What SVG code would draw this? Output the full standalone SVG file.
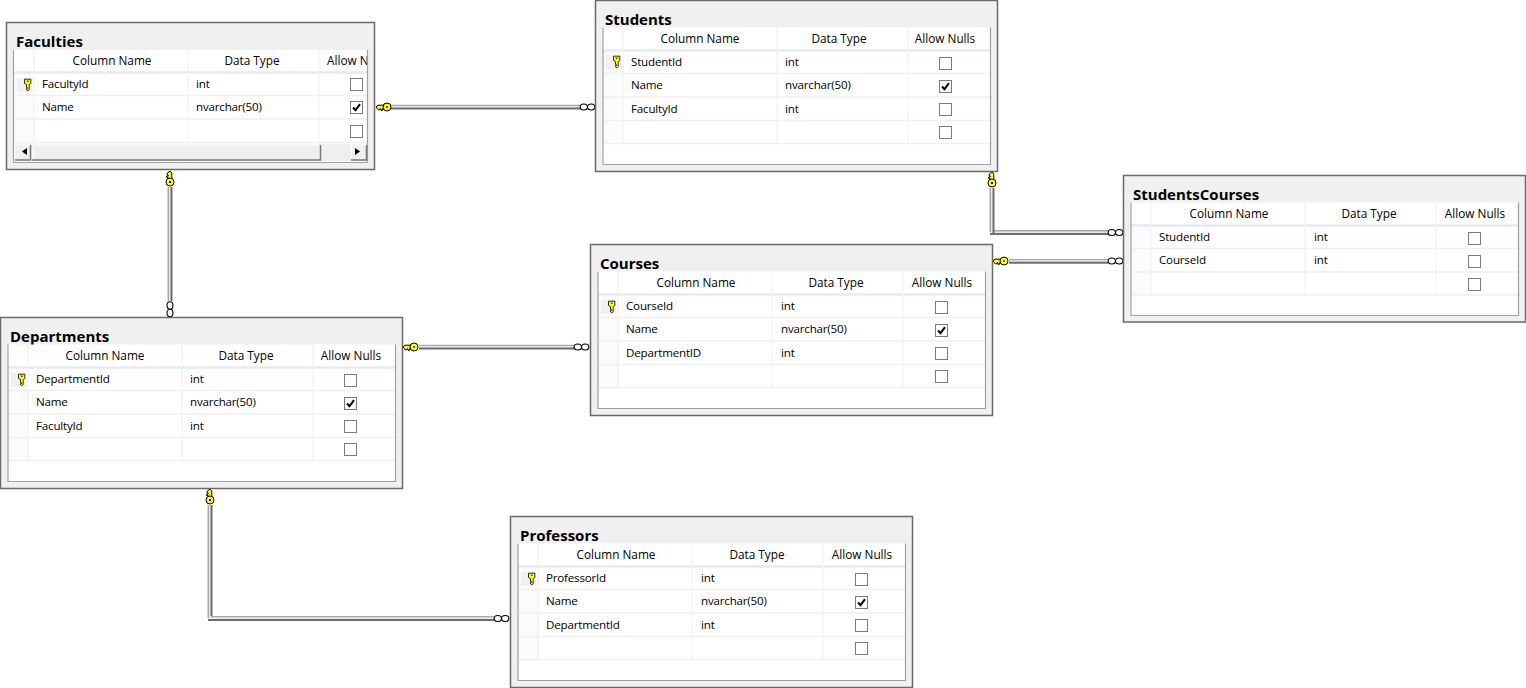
<svg xmlns="http://www.w3.org/2000/svg" width="1526" height="688" viewBox="0 0 1526 688">
<style>
text{font-family:"Open Sans","Noto Sans","Liberation Sans",sans-serif;font-size:11.600px;letter-spacing:-.2px;fill:#000}
.h{font-size:11.800px;letter-spacing:0}
.t{font-size:15px;font-weight:700;letter-spacing:0}
.m{text-anchor:middle}
.box{fill:#f0f0f0;stroke:#6a6a6a;stroke-width:1.500}
.grid{fill:#fff;stroke:none}
.fr{fill:none;stroke:#a0a0a0;stroke-width:1.200}
.mk{fill:#fbfbfb}
.hl{stroke:#e4eaf8;stroke-width:2.500;fill:none}
.rl{stroke:#f0f0f0;stroke-width:1.500;fill:none}
.vl{stroke:#f1f3f8;stroke-width:1.500;fill:none}
.cb{fill:#fff;stroke:#7a7a7a;stroke-width:1}
.ck{fill:none;stroke:#000;stroke-width:2}
.c1{fill:none;stroke:#a8a8a8;stroke-width:2}
.c2{fill:none;stroke:#eaeaea;stroke-width:2}
.c3{fill:none;stroke:#6c6c6c;stroke-width:2}
.inf{fill:#fff;stroke:#000;stroke-width:1.100}
.key{fill:#ffff00;stroke:#000;stroke-width:1}
.sb{fill:#efefef;stroke:none}
.sbd{fill:none;stroke:#777;stroke-width:1.500}
.sbl{fill:none;stroke:#fff;stroke-width:1}
</style>
<defs>
<g id="rowkey"><rect x="-15" y="-7" width="15" height="14" fill="#f0f0f0"/><path d="M-7.500-5.800h6.300v4.300l-1.600 1.100v5l-1.300 1.300-1.400-1v-1.200h1v-1h-1v-3.100l-2-1.100z" fill="#ffff00" stroke="#000" stroke-width=".8"/><rect x="-5.300" y="-4.300" width="2" height="1" fill="#000"/></g>
<g id="box"><rect class="cb" x="0.500" y="0.500" width="12" height="12"/></g>
<g id="boxc"><rect class="cb" x="0.500" y="0.500" width="12" height="12"/><path class="ck" d="M3 6.500l2.500 2.700 4.500-6"/></g>
<g id="keyL"><path class="key" d="M0 0l2-1.800h6v3.600h-1.500v1.500h-1.500v-1.500h-1v1h-1.800z"/><circle class="key" cx="11" cy="0" r="4"/><rect x="10" y="-.6" width="2" height="1.200" fill="#000"/></g>
<g id="keyU"><path class="key" d="M0 0l1.800 2v6h-3.600v-1.500h-1.500v-1.500h1.500v-1h-1v-1.800z"/><circle class="key" cx="0" cy="11" r="4"/><rect x="-1" y="10" width="2" height="2" fill="#000"/></g>
<g id="infH"><ellipse class="inf" cx="0.800" cy="0" rx="3.700" ry="3"/><ellipse class="inf" cx="8.200" cy="0" rx="3.700" ry="3"/></g>
<g id="infV"><ellipse class="inf" cx="0" cy="0" rx="3" ry="3.700"/><ellipse class="inf" cx="0" cy="7.500" rx="3" ry="3.700"/></g>
<g id="rows5"><rect class="mk" x="8" y="52" width="20" height="91"/><path class="hl" d="M8 50.500H395"/><path class="rl" d="M8 73.500H395M8 97H395M8 120.500H395M8 143.500H395"/><path class="vl" d="M28 28V143M182 28V143M313 28V143"/></g>
<clipPath id="fc"><rect x="7" y="28" width="354" height="112"/></clipPath>
</defs>

<g id="connectors">
<path class="c1" d="M391 105.800H580"/><path class="c2" d="M391 107H580"/><path class="c3" d="M391 108.500H580"/>
<use href="#keyL" x="376" y="107"/><use href="#infH" x="583" y="107"/>

<path class="c1" d="M168.500 187V301"/><path class="c2" d="M170 187V301"/><path class="c3" d="M171.500 187V301"/>
<use href="#keyU" x="170" y="171"/><use href="#infV" x="170" y="305.500"/>

<path class="c1" d="M990.500 188V231H1108"/><path class="c2" d="M992 188V232.500H1108"/><path class="c3" d="M993.500 188V233"/><path class="c3" d="M990 234H1108"/>
<use href="#keyU" x="992" y="172"/><use href="#infH" x="1111" y="232.500"/>

<path class="c1" d="M1009 260H1108"/><path class="c2" d="M1009 261.200H1108"/><path class="c3" d="M1009 262.800H1108"/>
<use href="#keyL" x="993" y="261"/><use href="#infH" x="1111" y="261"/>

<path class="c1" d="M419 345.800H574"/><path class="c2" d="M419 347H574"/><path class="c3" d="M419 348.500H574"/>
<use href="#keyL" x="403" y="347"/><use href="#infH" x="577" y="347"/>

<path class="c1" d="M208.500 505V617H494"/><path class="c2" d="M210 505V618.200H494"/><path class="c3" d="M211.500 505V616"/><path class="c3" d="M208 620H494"/>
<use href="#keyU" x="210" y="489"/><use href="#infH" x="497" y="618.500"/>
</g>

<g id="faculties" transform="translate(6,22)">
<rect class="box" x="0.500" y="0.500" width="368" height="147"/>
<text class="t" x="10" y="25">Faculties</text>
<rect class="grid" x="7.500" y="28" width="354" height="112"/>
<g clip-path="url(#fc)"><use href="#rows5"/>
<text class="m h" x="106" y="43">Column Name</text><text class="m h" x="246" y="43">Data Type</text><text class="h" x="321" y="43">Allow Nulls</text></g>
<path class="fr" d="M7.500 28V140.500H361.500V28"/>
<use href="#rowkey" x="26" y="63"/>
<text x="36" y="66">FacultyId</text><text x="190" y="66">int</text>
<text x="36" y="89">Name</text><text x="190" y="89">nvarchar(50)</text>
<use href="#box" x="344" y="56"/><use href="#boxc" x="344" y="79"/><use href="#box" x="344" y="103"/>
<rect class="sb" x="8" y="122" width="353" height="17"/>
<path class="sbl" d="M9 137V123H24M27 137V123H313M345.500 137V123H360"/>
<path class="sbd" d="M9 138H24.500V123M26 138H314.500V123M345 138H360.500V123"/><path d="M21 126v7l-5-3.500z" fill="#000"/>
<path d="M349 126v7l5-3.500z" fill="#000"/>
</g>

<g id="students" transform="translate(595,0)">
<rect class="box" x="0.500" y="0.500" width="402" height="171"/>
<text class="t" x="10" y="25">Students</text>
<rect class="grid" x="7.500" y="27.500" width="388" height="137"/><use href="#rows5"/><path class="fr" d="M8 27.500V164.500H395.500V27.500"/>
<text class="m h" x="105" y="43">Column Name</text><text class="m h" x="244" y="43">Data Type</text><text class="m h" x="350" y="43">Allow Nulls</text>
<use href="#rowkey" x="26" y="62"/>
<text x="36" y="66">StudentId</text><text x="190" y="66">int</text>
<text x="36" y="89">Name</text><text x="190" y="89">nvarchar(50)</text>
<text x="36" y="113">FacultyId</text><text x="190" y="113">int</text>
<use href="#box" x="344" y="57"/><use href="#boxc" x="344" y="80"/><use href="#box" x="344" y="103"/><use href="#box" x="344" y="126"/>
</g>

<g id="studentscourses" transform="translate(1123,175)">
<rect class="box" x="0.500" y="0.500" width="402" height="146.500"/>
<text class="t" x="10" y="25">StudentsCourses</text>
<rect class="grid" x="7.500" y="27.500" width="388" height="113"/>
<rect class="mk" x="8" y="52" width="20" height="68"/><path class="hl" d="M8 50.500H395"/><path class="rl" d="M8 73.500H395M8 97H395M8 120H395"/><path class="vl" d="M28 28V120M182 28V120M313 28V120"/>
<path class="fr" d="M8 27.500V140.500H395.500V27.500"/>
<text class="m h" x="106" y="43">Column Name</text><text class="m h" x="246" y="43">Data Type</text><text class="m h" x="352" y="43">Allow Nulls</text>
<text x="36" y="66">StudentId</text><text x="191" y="66">int</text>
<text x="36" y="89">CourseId</text><text x="191" y="89">int</text>
<use href="#box" x="345" y="57"/><use href="#box" x="345" y="80"/><use href="#box" x="345" y="103"/>
</g>

<g id="courses" transform="translate(590,244)">
<rect class="box" x="0.500" y="0.500" width="402" height="171"/>
<text class="t" x="10" y="25">Courses</text>
<rect class="grid" x="7.500" y="27.500" width="388" height="137"/><use href="#rows5"/><path class="fr" d="M8 27.500V164.500H395.500V27.500"/>
<text class="m h" x="106" y="43">Column Name</text><text class="m h" x="246" y="43">Data Type</text><text class="m h" x="352" y="43">Allow Nulls</text>
<use href="#rowkey" x="26" y="63"/>
<text x="36" y="66">CourseId</text><text x="191" y="66">int</text>
<text x="36" y="89">Name</text><text x="191" y="89">nvarchar(50)</text>
<text x="36" y="113">DepartmentID</text><text x="191" y="113">int</text>
<use href="#box" x="345" y="57"/><use href="#boxc" x="345" y="80"/><use href="#box" x="345" y="103"/><use href="#box" x="345" y="126"/>
</g>

<g id="departments" transform="translate(0,317)">
<rect class="box" x="0.500" y="0.500" width="402" height="171"/>
<text class="t" x="10" y="25">Departments</text>
<rect class="grid" x="7.500" y="27.500" width="388" height="137"/><use href="#rows5"/><path class="fr" d="M8 27.500V164.500H395.500V27.500"/>
<text class="m h" x="105" y="43">Column Name</text><text class="m h" x="246" y="43">Data Type</text><text class="m h" x="351" y="43">Allow Nulls</text>
<use href="#rowkey" x="26" y="63"/>
<text x="36" y="66">DepartmentId</text><text x="190" y="66">int</text>
<text x="36" y="89">Name</text><text x="190" y="89">nvarchar(50)</text>
<text x="36" y="113">FacultyId</text><text x="190" y="113">int</text>
<use href="#box" x="344" y="57"/><use href="#boxc" x="344" y="80"/><use href="#box" x="344" y="103"/><use href="#box" x="344" y="126"/>
</g>

<g id="professors" transform="translate(510,516)">
<rect class="box" x="0.500" y="0.500" width="402" height="171"/>
<text class="t" x="10" y="25">Professors</text>
<rect class="grid" x="7.500" y="27.500" width="388" height="137"/><use href="#rows5"/><path class="fr" d="M8 27.500V164.500H395.500V27.500"/>
<text class="m h" x="106" y="43">Column Name</text><text class="m h" x="247" y="43">Data Type</text><text class="m h" x="352" y="43">Allow Nulls</text>
<use href="#rowkey" x="26" y="63"/>
<text x="36" y="66">ProfessorId</text><text x="191" y="66">int</text>
<text x="36" y="89">Name</text><text x="191" y="89">nvarchar(50)</text>
<text x="36" y="113">DepartmentId</text><text x="191" y="113">int</text>
<use href="#box" x="345" y="57"/><use href="#boxc" x="345" y="80"/><use href="#box" x="345" y="103"/><use href="#box" x="345" y="126"/>
</g>
</svg>
